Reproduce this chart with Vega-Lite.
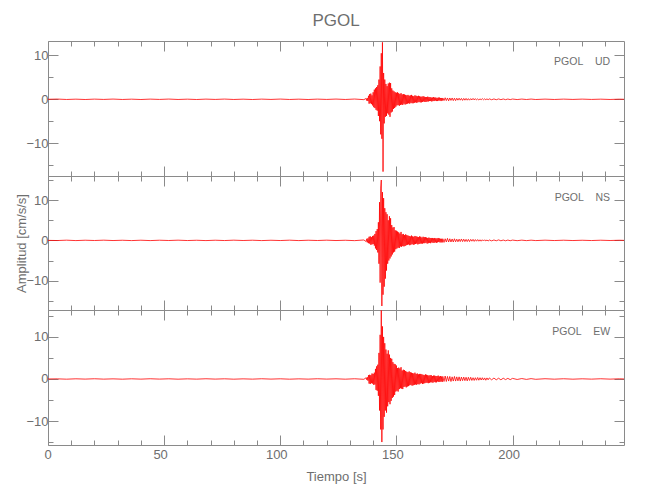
{
  "$schema": "https://vega.github.io/schema/vega-lite/v6.json",
  "padding": {"left": 15, "top": 12, "right": 5, "bottom": 5},
  "title": {"text": "PGOL", "fontSize": 17, "font": "Liberation Sans Narrow, Liberation Sans, sans-serif", "fontWeight": "normal", "color": "#6e6e6e", "anchor": "middle", "frame": "group", "offset": 10},
  "config": {
    "view": {"stroke": "#8a8a8a", "strokeWidth": 1},
    "axis": {"domain": false, "grid": false, "labelColor": "#6e6e6e", "titleColor": "#6e6e6e", "tickColor": "#8a8a8a", "labelFont": "Liberation Sans Narrow, Liberation Sans, sans-serif", "titleFont": "Liberation Sans Narrow, Liberation Sans, sans-serif", "labelFontSize": 13, "titleFontSize": 13, "titleFontWeight": "normal", "labelOverlap": false}
  },
  "spacing": 0,
  "bounds": "flush",
  "resolve": {"scale": {"y": "independent"}, "axis": {"x": "independent", "y": "independent"}},
  "datasets": {
    "w": [
      {"t":0,"u":0,"n":0,"e":0},{"t":4,"u":0.05,"n":-0.04,"e":0.03},{"t":8,"u":-0.04,"n":0.05,"e":-0.05},{"t":12,"u":0.03,"n":-0.05,"e":0.04},{"t":16,"u":-0.05,"n":0.04,"e":-0.03},{"t":20,"u":0.04,"n":-0.03,"e":0.05},{"t":24,"u":-0.03,"n":0.05,"e":-0.04},{"t":28,"u":0.05,"n":-0.04,"e":0.03},{"t":32,"u":-0.04,"n":0.03,"e":-0.05},{"t":36,"u":0.03,"n":-0.05,"e":0.04},{"t":40,"u":-0.05,"n":0.04,"e":-0.04},{"t":44,"u":0.04,"n":-0.05,"e":0.05},{"t":48,"u":-0.03,"n":0.04,"e":-0.03},{"t":52,"u":0.05,"n":-0.03,"e":0.04},{"t":56,"u":-0.04,"n":0.05,"e":-0.05},{"t":60,"u":0.03,"n":-0.04,"e":0.03},{"t":64,"u":-0.05,"n":0.03,"e":-0.04},{"t":68,"u":0.04,"n":-0.05,"e":0.05},{"t":72,"u":-0.03,"n":0.04,"e":-0.03},{"t":76,"u":0.05,"n":-0.04,"e":0.04},{"t":80,"u":-0.04,"n":0.05,"e":-0.05},{"t":84,"u":0.03,"n":-0.03,"e":0.03},{"t":88,"u":-0.05,"n":0.04,"e":-0.04},{"t":92,"u":0.04,"n":-0.05,"e":0.05},{"t":96,"u":-0.03,"n":0.03,"e":-0.03},{"t":100,"u":0.05,"n":-0.04,"e":0.04},{"t":104,"u":-0.04,"n":0.05,"e":-0.05},{"t":108,"u":0.03,"n":-0.05,"e":0.03},{"t":112,"u":-0.05,"n":0.04,"e":-0.04},{"t":116,"u":0.04,"n":-0.03,"e":0.05},{"t":120,"u":-0.03,"n":0.05,"e":-0.03},{"t":124,"u":0.05,"n":-0.04,"e":0.04},{"t":128,"u":-0.04,"n":0.03,"e":-0.05},{"t":132,"u":0.06,"n":-0.06,"e":0.05},{"t":136,"u":-0.08,"n":0.1,"e":-0.08},
      {"t":137,"u":0.2,"n":-0.3,"e":0.3},{"t":137.25,"u":-0.3,"n":0.4,"e":-0.2},{"t":137.5,"u":0.25,"n":-0.5,"e":0.4},{"t":137.75,"u":-0.4,"n":0.5,"e":-0.4},
      {"t":138,"u":0.8,"n":-0.7,"e":0.9},{"t":138.25,"u":-1.0,"n":0.9,"e":-1.1},{"t":138.5,"u":1.2,"n":-0.8,"e":1.0},{"t":138.75,"u":-0.9,"n":1.0,"e":-1.2},
      {"t":139,"u":1.3,"n":-1.1,"e":0.9},{"t":139.25,"u":-1.1,"n":0.8,"e":-1.0},{"t":139.5,"u":0.9,"n":-1.0,"e":1.3},{"t":139.75,"u":-1.4,"n":1.1,"e":-1.1},
      {"t":140,"u":1.6,"n":-0.9,"e":1.2},{"t":140.25,"u":-1.8,"n":1.2,"e":-1.4},{"t":140.5,"u":2.2,"n":-1.3,"e":1.5},{"t":140.75,"u":-2.0,"n":1.6,"e":-1.3},
      {"t":141,"u":2.5,"n":-2.0,"e":2.4},{"t":141.25,"u":-2.4,"n":2.3,"e":-2.6},{"t":141.5,"u":2.8,"n":-2.4,"e":3.0},{"t":141.75,"u":-2.6,"n":2.8,"e":-2.8},
      {"t":142,"u":3.2,"n":-3.0,"e":3.4},{"t":142.25,"u":-3.8,"n":4.5,"e":-4.0},{"t":142.5,"u":4.5,"n":-5.8,"e":6.2},{"t":142.75,"u":-5.0,"n":9.5,"e":-7.5},
      {"t":143,"u":7.5,"n":-10.5,"e":10.5},{"t":143.25,"u":-8.0,"n":13.0,"e":-12.0},{"t":143.5,"u":10.5,"n":15.0,"e":16.3},{"t":143.75,"u":-9.0,"n":-16.3,"e":-15.0},
      {"t":144,"u":13.0,"n":12.0,"e":12.5},{"t":144.25,"u":-16.5,"n":-13.5,"e":-12.0},{"t":144.5,"u":6.0,"n":10.5,"e":10.0},{"t":144.75,"u":-5.5,"n":-11.5,"e":-9.0},
      {"t":145,"u":4.5,"n":8.0,"e":8.5},{"t":145.25,"u":-4.0,"n":-9.5,"e":-7.5},{"t":145.5,"u":3.5,"n":7.0,"e":7.0},{"t":145.75,"u":-3.8,"n":-7.5,"e":-8.0},
      {"t":146,"u":3.0,"n":6.5,"e":6.0},{"t":146.25,"u":-3.2,"n":-5.8,"e":-6.5},{"t":146.5,"u":3.6,"n":5.0,"e":6.8},{"t":146.75,"u":-3.5,"n":-5.0,"e":-5.5},
      {"t":147,"u":3.8,"n":6.0,"e":5.8},{"t":147.25,"u":-4.0,"n":-4.5,"e":-6.0},{"t":147.5,"u":3.7,"n":5.5,"e":5.0},{"t":147.75,"u":-3.0,"n":-4.0,"e":-5.2},
      {"t":148,"u":2.5,"n":3.8,"e":4.8},{"t":148.25,"u":-2.8,"n":-3.5,"e":-4.5},{"t":148.5,"u":2.0,"n":3.2,"e":4.0},{"t":148.75,"u":-2.2,"n":-3.0,"e":-4.2},
      {"t":149,"u":1.8,"n":3.3,"e":3.6},{"t":149.25,"u":-2.0,"n":-2.8,"e":-3.8},{"t":149.5,"u":1.6,"n":2.5,"e":3.5},{"t":149.75,"u":-1.7,"n":-2.2,"e":-3.0},
      {"t":150,"u":1.5,"n":2.4,"e":3.2},{"t":150.25,"u":-1.4,"n":-2.0,"e":-2.8},{"t":150.5,"u":1.6,"n":2.2,"e":2.6},{"t":150.75,"u":-1.3,"n":-1.8,"e":-3.0},
      {"t":151,"u":1.4,"n":2.0,"e":2.7},{"t":151.25,"u":-1.5,"n":-1.9,"e":-2.4},{"t":151.5,"u":1.2,"n":1.7,"e":2.5},{"t":151.75,"u":-1.3,"n":-1.5,"e":-2.2},
      {"t":152,"u":1.4,"n":2.1,"e":2.8},{"t":152.25,"u":-1.2,"n":-1.6,"e":-2.3},{"t":152.5,"u":1.1,"n":1.5,"e":2.0},{"t":152.75,"u":-1.3,"n":-1.4,"e":-2.4},
      {"t":153,"u":1.2,"n":1.6,"e":2.2},{"t":153.25,"u":-1.0,"n":-1.5,"e":-1.9},{"t":153.5,"u":1.1,"n":1.3,"e":2.1},{"t":153.75,"u":-1.2,"n":-1.4,"e":-1.8},
      {"t":154,"u":1.0,"n":1.5,"e":1.9},{"t":154.25,"u":-1.1,"n":-1.2,"e":-2.0},{"t":154.5,"u":0.9,"n":1.3,"e":1.7},{"t":154.75,"u":-1.0,"n":-1.1,"e":-1.8},
      {"t":155,"u":1.0,"n":1.2,"e":1.6},{"t":155.25,"u":-0.9,"n":-1.0,"e":-1.7},{"t":155.5,"u":0.8,"n":1.1,"e":1.8},{"t":155.75,"u":-1.0,"n":-1.2,"e":-1.5},
      {"t":156,"u":0.9,"n":1.0,"e":1.6},{"t":156.25,"u":-0.8,"n":-1.1,"e":-1.4},{"t":156.5,"u":1.0,"n":1.2,"e":1.5},{"t":156.75,"u":-0.9,"n":-0.9,"e":-1.6},
      {"t":157,"u":0.8,"n":1.0,"e":1.4},{"t":157.25,"u":-0.9,"n":-1.1,"e":-1.5},{"t":157.5,"u":0.7,"n":0.9,"e":1.3},{"t":157.75,"u":-0.8,"n":-1.0,"e":-1.4},
      {"t":158,"u":0.9,"n":1.1,"e":1.5},{"t":158.25,"u":-0.7,"n":-0.9,"e":-1.3},{"t":158.5,"u":0.8,"n":1.0,"e":1.2},{"t":158.75,"u":-0.8,"n":-0.8,"e":-1.4},
      {"t":159,"u":0.7,"n":0.9,"e":1.3},{"t":159.25,"u":-0.7,"n":-1.0,"e":-1.2},{"t":159.5,"u":0.8,"n":0.8,"e":1.1},{"t":159.75,"u":-0.6,"n":-0.9,"e":-1.3},
      {"t":160,"u":0.7,"n":1.0,"e":1.2},{"t":160.25,"u":-0.7,"n":-0.8,"e":-1.1},{"t":160.5,"u":0.6,"n":0.9,"e":1.2},{"t":160.75,"u":-0.7,"n":-0.8,"e":-1.0},
      {"t":161,"u":0.6,"n":0.7,"e":1.1},{"t":161.25,"u":-0.6,"n":-0.8,"e":-1.2},{"t":161.5,"u":0.7,"n":0.9,"e":1.0},{"t":161.75,"u":-0.5,"n":-0.7,"e":-1.1},
      {"t":162,"u":0.6,"n":0.8,"e":0.9},{"t":162.25,"u":-0.6,"n":-0.7,"e":-1.0},{"t":162.5,"u":0.5,"n":0.8,"e":1.1},{"t":162.75,"u":-0.6,"n":-0.6,"e":-0.9},
      {"t":163,"u":0.5,"n":0.7,"e":1.0},{"t":163.25,"u":-0.5,"n":-0.8,"e":-0.9},{"t":163.5,"u":0.6,"n":0.6,"e":0.9},{"t":163.75,"u":-0.5,"n":-0.7,"e":-1.0},
      {"t":164,"u":0.5,"n":0.7,"e":0.8},{"t":164.25,"u":-0.4,"n":-0.6,"e":-0.9},{"t":164.5,"u":0.5,"n":0.6,"e":0.9},{"t":164.75,"u":-0.4,"n":-0.7,"e":-0.8},
      {"t":165,"u":0.4,"n":0.6,"e":0.9},{"t":165.25,"u":-0.5,"n":-0.5,"e":-0.8},{"t":165.5,"u":0.4,"n":0.6,"e":0.7},{"t":165.75,"u":-0.4,"n":-0.6,"e":-0.9},
      {"t":166,"u":0.5,"n":0.5,"e":0.8},{"t":166.25,"u":-0.4,"n":-0.6,"e":-0.7},{"t":166.5,"u":0.4,"n":0.6,"e":0.8},{"t":166.75,"u":-0.3,"n":-0.5,"e":-0.8},
      {"t":167,"u":0.4,"n":0.5,"e":0.7},{"t":167.25,"u":-0.4,"n":-0.6,"e":-0.8},{"t":167.5,"u":0.3,"n":0.5,"e":0.7},{"t":167.75,"u":-0.4,"n":-0.5,"e":-0.6},
      {"t":168,"u":0.4,"n":0.6,"e":0.8},{"t":168.25,"u":-0.3,"n":-0.4,"e":-0.7},{"t":168.5,"u":0.4,"n":0.5,"e":0.6},{"t":168.75,"u":-0.3,"n":-0.5,"e":-0.7},
      {"t":169,"u":0.3,"n":0.4,"e":0.7},{"t":169.25,"u":-0.4,"n":-0.5,"e":-0.6},{"t":169.5,"u":0.3,"n":0.4,"e":0.6},{"t":169.75,"u":-0.3,"n":-0.5,"e":-0.7},
      {"t":170,"u":0.3,"n":0.4,"e":0.6},{"t":170.5,"u":-0.3,"n":-0.5,"e":-0.6},{"t":171,"u":0.35,"n":0.4,"e":0.7},{"t":171.5,"u":-0.3,"n":-0.4,"e":-0.6},
      {"t":172,"u":0.3,"n":0.5,"e":0.6},{"t":172.5,"u":-0.35,"n":-0.4,"e":-0.5},{"t":173,"u":0.3,"n":0.4,"e":0.6},{"t":173.5,"u":-0.25,"n":-0.4,"e":-0.6},
      {"t":174,"u":0.3,"n":0.35,"e":0.5},{"t":174.5,"u":-0.3,"n":-0.4,"e":-0.5},{"t":175,"u":0.25,"n":0.4,"e":0.6},{"t":175.5,"u":-0.3,"n":-0.35,"e":-0.5},
      {"t":176,"u":0.25,"n":0.3,"e":0.5},{"t":176.5,"u":-0.2,"n":-0.35,"e":-0.45},{"t":177,"u":0.25,"n":0.3,"e":0.5},{"t":177.5,"u":-0.2,"n":-0.3,"e":-0.5},
      {"t":178,"u":0.2,"n":0.35,"e":0.45},{"t":178.5,"u":-0.25,"n":-0.3,"e":-0.4},{"t":179,"u":0.2,"n":0.3,"e":0.45},{"t":179.5,"u":-0.2,"n":-0.3,"e":-0.4},
      {"t":180,"u":0.2,"n":0.25,"e":0.4},{"t":180.5,"u":-0.2,"n":-0.3,"e":-0.45},{"t":181,"u":0.15,"n":0.25,"e":0.4},{"t":181.5,"u":-0.2,"n":-0.3,"e":-0.35},
      {"t":182,"u":0.15,"n":0.25,"e":0.4},{"t":182.5,"u":-0.15,"n":-0.2,"e":-0.35},{"t":183,"u":0.2,"n":0.25,"e":0.3},{"t":183.5,"u":-0.15,"n":-0.25,"e":-0.35},
      {"t":184,"u":0.15,"n":0.2,"e":0.3},{"t":184.5,"u":-0.15,"n":-0.2,"e":-0.3},{"t":185,"u":0.1,"n":0.2,"e":0.35},{"t":185.5,"u":-0.15,"n":-0.2,"e":-0.3},
      {"t":186,"u":0.1,"n":0.15,"e":0.3},{"t":186.5,"u":-0.1,"n":-0.2,"e":-0.25},{"t":187,"u":0.15,"n":0.15,"e":0.3},{"t":187.5,"u":-0.1,"n":-0.15,"e":-0.25},
      {"t":188,"u":0.1,"n":0.15,"e":0.25},{"t":188.5,"u":-0.1,"n":-0.15,"e":-0.3},{"t":189,"u":0.1,"n":0.1,"e":0.25},{"t":189.5,"u":-0.1,"n":-0.15,"e":-0.2},
      {"t":190,"u":0.1,"n":0.1,"e":0.25},{"t":191,"u":-0.1,"n":-0.12,"e":-0.2},{"t":192,"u":0.08,"n":0.1,"e":0.22},{"t":193,"u":-0.1,"n":-0.1,"e":-0.2},
      {"t":194,"u":0.08,"n":0.12,"e":0.18},{"t":195,"u":-0.08,"n":-0.1,"e":-0.2},{"t":196,"u":0.07,"n":0.08,"e":0.18},{"t":197,"u":-0.08,"n":-0.1,"e":-0.15},
      {"t":198,"u":0.06,"n":0.08,"e":0.15},{"t":199,"u":-0.07,"n":-0.08,"e":-0.16},{"t":200,"u":0.06,"n":0.07,"e":0.14},{"t":202,"u":-0.06,"n":-0.07,"e":-0.12},
      {"t":204,"u":0.05,"n":0.06,"e":0.1},{"t":206,"u":-0.05,"n":-0.06,"e":-0.1},{"t":208,"u":0.05,"n":0.05,"e":0.08},{"t":210,"u":-0.05,"n":-0.05,"e":-0.08},
      {"t":214,"u":0.04,"n":0.05,"e":0.06},{"t":218,"u":-0.04,"n":-0.04,"e":-0.05},{"t":222,"u":0.04,"n":0.04,"e":0.05},{"t":226,"u":-0.03,"n":-0.04,"e":-0.05},
      {"t":230,"u":0.04,"n":0.03,"e":0.04},{"t":234,"u":-0.03,"n":-0.04,"e":-0.04},{"t":238,"u":0.03,"n":0.04,"e":0.05},{"t":242,"u":-0.04,"n":-0.03,"e":-0.04},
      {"t":246,"u":0.03,"n":0.03,"e":0.04},{"t":248,"u":0,"n":0,"e":0}
    ]
  },
  "vconcat": [
    {
      "width": 576, "height": 135,
      "data": {"name": "w"},
      "resolve": {"axis": {"x": "independent", "y": "independent"}},
      "layer": [
        {
          "mark": {"type": "line", "color": "#ff0000", "strokeWidth": 0.8},
          "encoding": {
            "x": {"field": "t", "type": "quantitative", "scale": {"domain": [0, 248], "nice": false, "zero": false},
                  "axis": {"orient": "bottom", "values": [0,10,20,30,40,50,60,70,80,90,100,110,120,130,140,150,160,170,180,190,200,210,220,230,240], "labels": false, "title": null,
                           "tickSize": {"condition": {"test": "datum.value % 50 === 0", "value": -10}, "value": -5}}},
            "y": {"field": "u", "type": "quantitative", "scale": {"domain": [-17.5, 13.3], "nice": false, "zero": false},
                  "axis": {"orient": "left", "values": [-15,-10,-5,0,5,10], "title": null, "labelPadding": 10,
                           "labelExpr": "datum.value % 10 === 0 ? datum.label : ''",
                           "tickSize": {"condition": {"test": "datum.value % 10 === 0", "value": -10}, "value": -5}}}
          }
        },
        {
          "data": {"values": [{"s": "PGOL\u00a0\u00a0\u00a0\u00a0UD"}]},
          "mark": {"type": "text", "align": "right", "baseline": "middle", "fontSize": 10.5, "font": "Liberation Sans Narrow, Liberation Sans, sans-serif", "color": "#6e6e6e"},
          "encoding": {
            "text": {"field": "s"},
            "x": {"datum": 242, "type": "quantitative", "scale": {"domain": [0, 248], "nice": false, "zero": false},
                  "axis": {"orient": "top", "values": [0,10,20,30,40,50,60,70,80,90,100,110,120,130,140,150,160,170,180,190,200,210,220,230,240], "labels": false, "title": null,
                           "tickSize": {"condition": {"test": "datum.value % 50 === 0", "value": -10}, "value": -5}}},
            "y": {"datum": 8.5, "type": "quantitative", "scale": {"domain": [-17.5, 13.3], "nice": false, "zero": false},
                  "axis": {"orient": "right", "values": [-15,-10,-5,0,5,10], "labels": false, "title": null,
                           "tickSize": {"condition": {"test": "datum.value % 10 === 0", "value": -10}, "value": -5}}}
          }
        }
      ]
    },
    {
      "width": 576, "height": 134,
      "data": {"name": "w"},
      "resolve": {"axis": {"x": "independent", "y": "independent"}},
      "layer": [
        {
          "mark": {"type": "line", "color": "#ff0000", "strokeWidth": 0.8},
          "encoding": {
            "x": {"field": "t", "type": "quantitative", "scale": {"domain": [0, 248], "nice": false, "zero": false},
                  "axis": {"orient": "bottom", "values": [0,10,20,30,40,50,60,70,80,90,100,110,120,130,140,150,160,170,180,190,200,210,220,230,240], "labels": false, "title": null,
                           "tickSize": {"condition": {"test": "datum.value % 50 === 0", "value": -10}, "value": -5}}},
            "y": {"field": "n", "type": "quantitative", "scale": {"domain": [-17.3, 16.0], "nice": false, "zero": false},
                  "axis": {"orient": "left", "values": [-15,-10,-5,0,5,10,15], "title": "Amplitud [cm/s/s]", "labelPadding": 10, "titlePadding": -3,
                           "labelExpr": "datum.value % 10 === 0 ? datum.label : ''",
                           "tickSize": {"condition": {"test": "datum.value % 10 === 0", "value": -10}, "value": -5}}}
          }
        },
        {
          "data": {"values": [{"s": "PGOL\u00a0\u00a0\u00a0\u00a0NS"}]},
          "mark": {"type": "text", "align": "right", "baseline": "middle", "fontSize": 10.5, "font": "Liberation Sans Narrow, Liberation Sans, sans-serif", "color": "#6e6e6e"},
          "encoding": {
            "text": {"field": "s"},
            "x": {"datum": 242, "type": "quantitative", "scale": {"domain": [0, 248], "nice": false, "zero": false},
                  "axis": {"orient": "top", "values": [0,10,20,30,40,50,60,70,80,90,100,110,120,130,140,150,160,170,180,190,200,210,220,230,240], "labels": false, "title": null,
                           "tickSize": {"condition": {"test": "datum.value % 50 === 0", "value": -10}, "value": -5}}},
            "y": {"datum": 10.6, "type": "quantitative", "scale": {"domain": [-17.3, 16.0], "nice": false, "zero": false},
                  "axis": {"orient": "right", "values": [-15,-10,-5,0,5,10,15], "labels": false, "title": null,
                           "tickSize": {"condition": {"test": "datum.value % 10 === 0", "value": -10}, "value": -5}}}
          }
        }
      ]
    },
    {
      "width": 576, "height": 135,
      "data": {"name": "w"},
      "resolve": {"axis": {"x": "independent", "y": "independent"}},
      "layer": [
        {
          "mark": {"type": "line", "color": "#ff0000", "strokeWidth": 0.8},
          "encoding": {
            "x": {"field": "t", "type": "quantitative", "scale": {"domain": [0, 248], "nice": false, "zero": false},
                  "axis": {"orient": "bottom", "values": [0,10,20,30,40,50,60,70,80,90,100,110,120,130,140,150,160,170,180,190,200,210,220,230,240], "title": "Tiempo [s]", "labelPadding": 13, "labelOffset": -4, "titlePadding": 4,
                           "labelExpr": "datum.value % 50 === 0 ? datum.label : ''",
                           "tickSize": {"condition": {"test": "datum.value % 50 === 0", "value": -10}, "value": -5}}},
            "y": {"field": "e", "type": "quantitative", "scale": {"domain": [-15.7, 16.4], "nice": false, "zero": false},
                  "axis": {"orient": "left", "values": [-15,-10,-5,0,5,10,15], "title": null, "labelPadding": 10,
                           "labelExpr": "datum.value % 10 === 0 ? datum.label : ''",
                           "tickSize": {"condition": {"test": "datum.value % 10 === 0", "value": -10}, "value": -5}}}
          }
        },
        {
          "data": {"values": [{"s": "PGOL\u00a0\u00a0\u00a0\u00a0EW"}]},
          "mark": {"type": "text", "align": "right", "baseline": "middle", "fontSize": 10.5, "font": "Liberation Sans Narrow, Liberation Sans, sans-serif", "color": "#6e6e6e"},
          "encoding": {
            "text": {"field": "s"},
            "x": {"datum": 242, "type": "quantitative", "scale": {"domain": [0, 248], "nice": false, "zero": false},
                  "axis": {"orient": "top", "values": [0,10,20,30,40,50,60,70,80,90,100,110,120,130,140,150,160,170,180,190,200,210,220,230,240], "labels": false, "title": null,
                           "tickSize": {"condition": {"test": "datum.value % 50 === 0", "value": -10}, "value": -5}}},
            "y": {"datum": 11.1, "type": "quantitative", "scale": {"domain": [-15.7, 16.4], "nice": false, "zero": false},
                  "axis": {"orient": "right", "values": [-15,-10,-5,0,5,10,15], "labels": false, "title": null,
                           "tickSize": {"condition": {"test": "datum.value % 10 === 0", "value": -10}, "value": -5}}}
          }
        }
      ]
    }
  ]
}
